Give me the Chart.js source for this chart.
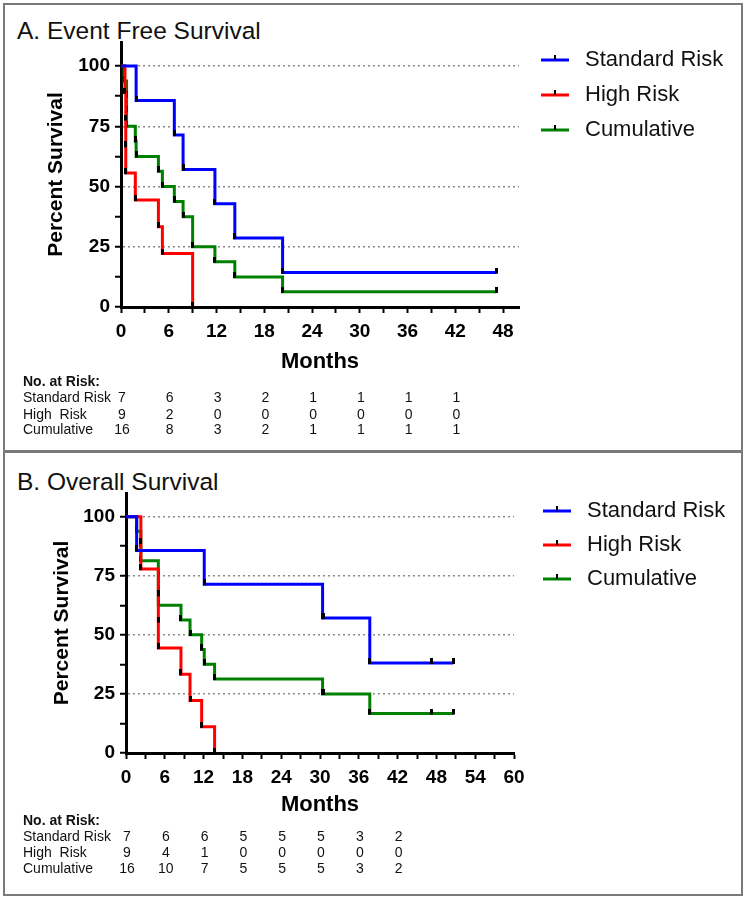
<!DOCTYPE html>
<html>
<head>
<meta charset="utf-8">
<script src="https://cdn.jsdelivr.net/npm/chart.js@4.4.1/dist/chart.umd.min.js"></script>
<style>
  body { margin: 0; background: #fff; font-family: "Liberation Sans", Arial, sans-serif; }
  #page { position: relative; width: 750px; height: 900px; }
  .panel { position: absolute; left: 3px; width: 736px; border: 2px solid #7a7a7a; }
  #panelA { top: 3px; height: 445px; }
  #panelB { top: 451px; height: 441px; }
  .ttl { position: absolute; left: 17px; font-size: 24.5px; line-height: 28px; color: #111; }
  canvas { position: absolute; left: 0; }
</style>
</head>
<body>
<div id="page">
  <div class="panel" id="panelA"></div>
  <div class="panel" id="panelB"></div>
  <div class="ttl" style="top:17px">A. Event Free Survival</div>
  <div class="ttl" style="top:468px">B. Overall Survival</div>
  <canvas id="efs" width="750" height="452" style="top:0"></canvas>
  <canvas id="os" width="750" height="448" style="top:452px"></canvas>
</div>
<script>
// series names
const groups = ['Standard Risk', 'High Risk', 'Cumulative'];
const groupColors = ['#0000ff', '#ff0000', '#008000'];

// A. event free survival (months, percent)
const efsStdT = [0, 1.9, 6.7, 7.8, 11.8, 14.3, 20.3, 47.2];
const efsStdS = [100, 85.7, 71.4, 57.1, 42.9, 28.6, 14.3, 14.3];
const efsHighT = [0, 0.5, 0.6, 0.6, 0.6, 1.8, 4.7, 5.2, 9.0];
const efsHighS = [100, 88.9, 77.8, 66.7, 55.6, 44.4, 33.3, 22.2, 0];
const efsCumT = [0, 0.4, 0.7, 0.7, 0.7, 1.8, 1.9, 4.7, 5.2, 6.7, 7.8, 9.0, 11.8, 14.3, 20.3, 47.2];
const efsCumS = [100, 93.8, 87.5, 81.3, 75, 68.8, 62.5, 56.3, 50, 43.8, 37.5, 25, 18.8, 12.5, 6.3, 6.3];

// B. overall survival (months, percent)
const osStdT = [0, 1.65, 12.1, 30.4, 30.6, 37.7, 47.2, 50.6];
const osStdS = [100, 85.7, 71.4, 57.1, 57.1, 38.1, 38.1, 38.1];
const osHighT = [0, 2.3, 2.3, 5.0, 5.0, 5.0, 8.5, 9.9, 11.7, 13.7];
const osHighS = [100, 88.9, 77.8, 66.7, 55.6, 44.4, 33.3, 22.2, 11.1, 0];
const osCumT = [0, 1.65, 2.3, 2.3, 5.0, 5.0, 5.0, 8.5, 9.9, 11.7, 12.1, 13.7, 30.4, 30.6, 37.7, 47.2, 50.6];
const osCumS = [100, 93.8, 87.5, 81.3, 75, 68.8, 62.5, 56.3, 50, 43.8, 37.5, 31.3, 25, 25, 16.7, 16.7, 16.7];

// axis ticks
const yTicks = [0, 12.5, 25, 37.5, 50, 62.5, 75, 87.5, 100];
const efsXTicks = [0, 3, 6, 9, 12, 15, 18, 21, 24, 27, 30, 33, 36, 39, 42, 45, 48];
const osXTicks = [0, 3, 6, 9, 12, 15, 18, 21, 24, 27, 30, 33, 36, 39, 42, 45, 48, 51, 54, 57, 60];

// number at risk
const riskLabels = ['Standard Risk', 'High  Risk', 'Cumulative'];
const riskTimes = [0, 6, 12, 18, 24, 30, 36, 42];
const efsRiskStd = [7, 6, 3, 2, 1, 1, 1, 1];
const efsRiskHigh = [9, 2, 0, 0, 0, 0, 0, 0];
const efsRiskCum = [16, 8, 3, 2, 1, 1, 1, 1];
const osRiskStd = [7, 6, 6, 5, 5, 5, 3, 2];
const osRiskHigh = [9, 4, 1, 0, 0, 0, 0, 0];
const osRiskCum = [16, 10, 7, 5, 5, 5, 3, 2];

const FONT = '"Liberation Sans", Arial, sans-serif';
Chart.defaults.font.family = FONT;
Chart.defaults.color = '#000';

// little black tick used as the point symbol
const tickMark = document.createElement('canvas');
tickMark.width = 3;
tickMark.height = 10;
tickMark.getContext('2d').fillRect(0, 0, 3, 6);

function pts(t, s) {
  return t.map((v, i) => ({ x: v, y: s[i] }));
}

function makeDatasets(series) {
  return series.map((d, i) => ({
    label: groups[i],
    data: pts(d[0], d[1]),
    borderColor: groupColors[i],
    borderWidth: 3,
    stepped: 'before',
    fill: false,
    pointStyle: tickMark,
    pointRadius: c => c.dataIndex === 0 ? 0 : 4,
    clip: 6
  }));
}

const legendPlugin = {
  id: 'kmLegend',
  afterDraw(chart, args, o) {
    const ctx = chart.ctx;
    ctx.save();
    chart.data.datasets.forEach((ds, i) => {
      const y = o.y0 + i * o.step;
      ctx.strokeStyle = ds.borderColor;
      ctx.lineWidth = 3;
      ctx.beginPath();
      ctx.moveTo(o.x, y);
      ctx.lineTo(o.x + 28, y);
      ctx.stroke();
      ctx.fillStyle = '#000';
      ctx.fillRect(o.x + 13, y - 5, 2, 5);
      ctx.fillStyle = '#111';
      ctx.font = '22px ' + FONT;
      ctx.textBaseline = 'middle';
      ctx.textAlign = 'left';
      ctx.fillText(ds.label, o.textX, y);
    });
    ctx.restore();
  }
};

const riskPlugin = {
  id: 'riskTable',
  afterDraw(chart, args, o) {
    const { ctx, chartArea } = chart;
    const x = chart.scales.x;
    ctx.save();
    ctx.fillStyle = '#111';
    ctx.textBaseline = 'middle';
    ctx.textAlign = 'left';
    ctx.font = 'bold 14px ' + FONT;
    ctx.fillText('No. at Risk:', 23, chartArea.bottom + o.offsets[0]);
    ctx.font = '14px ' + FONT;
    o.rows.forEach((row, i) => {
      const y = chartArea.bottom + o.offsets[i + 1];
      ctx.textAlign = 'left';
      ctx.fillText(riskLabels[i], 23, y);
      ctx.textAlign = 'center';
      row.forEach((n, j) => ctx.fillText(String(n), x.getPixelForValue(riskTimes[j]) + 1, y));
    });
    ctx.restore();
  }
};

function makeChart(id, cfg) {
  return new Chart(document.getElementById(id), {
    type: 'line',
    data: { datasets: makeDatasets(cfg.series) },
    plugins: [legendPlugin, riskPlugin],
    options: {
      responsive: false,
      animation: false,
      events: [],
      layout: { padding: cfg.padding },
      plugins: {
        legend: { display: false },
        tooltip: { enabled: false },
        kmLegend: cfg.legend,
        riskTable: { rows: cfg.risk, offsets: cfg.riskOffsets }
      },
      scales: {
        x: {
          type: 'linear',
          min: 0,
          max: cfg.xMax,
          afterBuildTicks: s => { s.ticks = cfg.xTicks.map(v => ({ value: v })); },
          afterFit: s => { s.height = cfg.xHeight; },
          ticks: {
            autoSkip: false,
            maxRotation: 0,
            padding: 7,
            font: { size: 19, weight: 'bold' },
            callback: v => v % 6 === 0 ? v : ''
          },
          grid: { color: 'rgba(0,0,0,0)', tickColor: '#000', tickWidth: 2, tickLength: 6 },
          border: { color: '#000', width: 3 },
          title: { display: true, text: 'Months', font: { size: 22, weight: 'bold' }, padding: { top: 0, bottom: 0 } }
        },
        y: {
          min: 0,
          max: 110,
          afterBuildTicks: s => { s.ticks = yTicks.map(v => ({ value: v })); },
          afterFit: s => { s.width = cfg.yWidth; },
          ticks: {
            padding: 5,
            font: { size: 19, weight: 'bold' },
            callback: v => v % 25 === 0 ? v : ''
          },
          grid: {
            color: c => (c.tick && c.tick.value > 0 && c.tick.value % 25 === 0) ? '#8a8a8a' : 'rgba(0,0,0,0)',
            lineWidth: 1.5,
            tickColor: '#000',
            tickWidth: 2,
            tickLength: 6
          },
          border: { color: '#000', width: 3, dash: [2, 3] },
          title: { display: true, text: 'Percent Survival', font: { size: 21, weight: 'bold' }, padding: { top: cfg.yTitlePad, bottom: 0 } }
        }
      }
    }
  });
}

makeChart('efs', {
  series: [[efsStdT, efsStdS], [efsHighT, efsHighS], [efsCumT, efsCumS]],
  risk: [efsRiskStd, efsRiskHigh, efsRiskCum],
  riskOffsets: [75, 91, 108, 123],
  xMax: 50,
  xTicks: efsXTicks,
  padding: { left: 0, top: 42, right: 231, bottom: 77 },
  xHeight: 68,
  yWidth: 121,
  yTitlePad: 44,
  legend: { x: 541, textX: 585, y0: 60, step: 35 }
});

makeChart('os', {
  series: [[osStdT, osStdS], [osHighT, osHighS], [osCumT, osCumS]],
  risk: [osRiskStd, osRiskHigh, osRiskCum],
  riskOffsets: [68, 84, 100, 116],
  xMax: 60,
  xTicks: osXTicks,
  padding: { left: 0, top: 41, right: 236, bottom: 82 },
  xHeight: 65,
  yWidth: 126,
  yTitlePad: 50,
  legend: { x: 543, textX: 587, y0: 59, step: 34 }
});
</script>
</body>
</html>
